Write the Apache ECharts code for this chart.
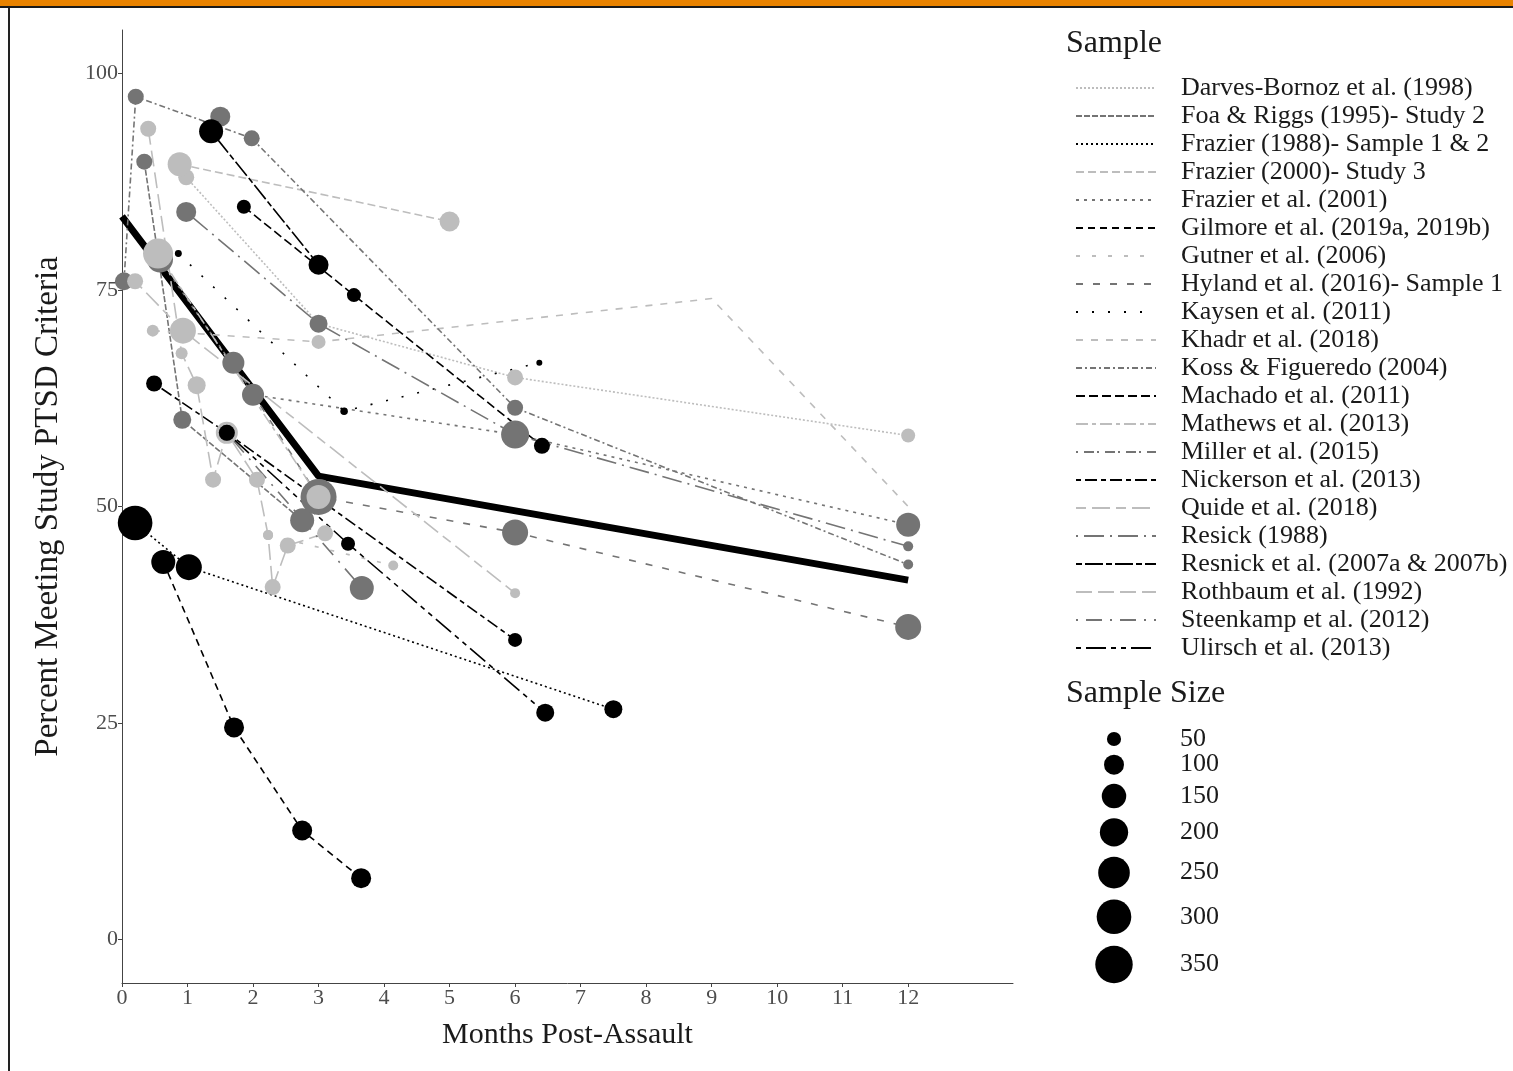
<!DOCTYPE html>
<html>
<head>
<meta charset="utf-8">
<script src="https://cdn.jsdelivr.net/npm/echarts@6/dist/echarts.min.js"></script>
<style>
html,body{margin:0;padding:0;background:#fff;}
#chart{width:1513px;height:1071px;}
</style>
</head>
<body>
<div id="chart"></div>
<script>
// ---------- DATA: [month, percent meeting PTSD criteria, sample size] ----------
const studies = [
  "Darves-Bornoz et al. (1998)", "Foa & Riggs (1995)- Study 2", "Frazier (1988)- Sample 1 & 2",
  "Frazier (2000)- Study 3", "Frazier et al. (2001)", "Gilmore et al. (2019a, 2019b)",
  "Gutner et al. (2006)", "Hyland et al. (2016)- Sample 1", "Kaysen et al. (2011)",
  "Khadr et al. (2018)", "Koss & Figueredo (2004)", "Machado et al. (2011)",
  "Mathews et al. (2013)", "Miller et al. (2015)", "Nickerson et al. (2013)",
  "Quide et al. (2018)", "Resick (1988)", "Resnick et al. (2007a & 2007b)",
  "Rothbaum et al. (1992)", "Steenkamp et al. (2012)", "Ulirsch et al. (2013)"
];
const darvesBornoz1998 = [[0.98,88,64],[3,71.1,49],[6,64.9,64],[12,58.2,49]];
const foaRiggs1995     = [[0.34,89.8,64],[0.92,60,81],[2.75,48.4,144]];
const frazier1988      = [[0.2,48.1,300],[1.02,43,169],[7.5,26.6,81]];
const frazier2000      = [[0.88,89.5,144],[5,82.9,100]];
const frazier2001      = [[0.58,78.5,169],[2,62.9,121],[6,58.3,196],[12,47.9,144]];
const gilmore2019      = [[0.63,43.6,144],[1.71,24.5,100],[2.75,12.6,100],[3.65,7.1,100]];
const gutner2006       = [[2.23,46.7,25],[4.14,43.2,25]];
const hyland2016       = [[1.7,66.6,121],[3,51.1,324],[6,47,169],[12,36.1,169]];
const kaysen2011       = [[0.86,79.2,12],[3.39,61,14],[6.37,66.6,9]];
const khadr2018        = [[0.47,70.3,36],[3,69,49],[9,74,0],[12,50,0]];
const koss2004         = [[0.03,76,81],[0.21,97.3,64],[1.98,92.5,64],[6,61.4,64],[12,43.3,25]];
const machado2011      = [[1.86,84.6,49],[3.54,74.4,49],[6.41,57,64]];
const mathews2013      = [[0.55,79.2,225],[3,51.1,144]];
const miller2015       = [[1.5,95,100]];
const nickerson2013    = [[0.49,64.2,64],[1.6,58.5,64],[6,34.6,49]];
const quide2018        = [[0.2,76,64],[0.93,70.3,169],[6,40,25]];
const resick1988       = [[0.98,84,100],[3,71.1,81],[6,58.3,100],[12,45.4,25]];
const resnick2007      = [[1.36,93.3,144],[3,77.9,100]];
const rothbaum1992     = [[0.4,93.6,64],[0.91,67.7,36],[1.14,64,81],[1.39,53.1,64],[1.6,58.5,121],[2.06,53.1,64],[2.23,46.7,25],[2.3,40.7,64],[2.53,45.5,64],[3.1,46.9,64]];
const steenkamp2012    = [[1.6,58.5,64],[3.66,40.6,144]];
const ulirsch2013      = [[1.6,58.5,64],[3.45,45.7,49],[6.46,26.2,81]];

const overallMonths  = [0, 3, 12];
const overallPercent = [83.5, 53.5, 41.5];

const xTicks = [0,1,2,3,4,5,6,7,8,9,10,11,12];
const yTicks = [0,25,50,75,100];
const sizeLegendValues = [50,100,150,200,250,300,350];

// ---------- STYLES ----------
const studyData = [darvesBornoz1998, foaRiggs1995, frazier1988, frazier2000, frazier2001, gilmore2019,
  gutner2006, hyland2016, kaysen2011, khadr2018, koss2004, machado2011, mathews2013, miller2015,
  nickerson2013, quide2018, resick1988, resnick2007, rothbaum1992, steenkamp2012, ulirsch2013];
const shades = ['#bdbdbd', '#747474', '#000000'];
const dashes = [
  [2,2],[6,2],[2,3],[8,4],[3,5],[7,5],[4,12],[7,10],[2,14],[7,8],
  [6,3,2,3],[9,4],[12,4,4,4],[2,6,10,3],[5,4,12,4],[10,6,18,6],[2,6,20,6],[6,3,18,3],[16,6],[2,8,16,8],[5,5,20,5,5,5]
];
const FONT = '"Liberation Serif", "Times New Roman", serif';
const sz = n => 2 * Math.sqrt(n);

const series = [{
  type: 'line', name: 'Overall', silent: true, symbol: 'none', z: 2,
  data: overallMonths.map((m, i) => [m, overallPercent[i]]),
  lineStyle: { color: '#000', width: 7 }
}];
studies.forEach((name, i) => {
  const col = shades[i % 3];
  series.push({
    type: 'line', name, silent: true, symbol: 'none', z: 3,
    data: studyData[i].map(p => ({
      value: [p[0], p[1]],
      symbol: p[2] > 0 ? 'circle' : 'none',
      symbolSize: p[2] > 0 ? sz(p[2]) : 0
    })),
    lineStyle: { color: col, width: 1.6, type: dashes[i] },
    itemStyle: { color: col }
  });
});

// size legend built from values
const sizeGraphics = [];
let y = 739;
sizeLegendValues.forEach((v, i) => {
  const r = Math.sqrt(v);
  if (i > 0) y += Math.sqrt(sizeLegendValues[i-1]) + r + 8 + i * 0.6;
  sizeGraphics.push({ type: 'circle', shape: { cx: 1114, cy: y, r: r }, style: { fill: '#000' } });
  sizeGraphics.push({ type: 'text', x: 1180, y: y, style: { text: String(v), font: '26px ' + FONT, fill: '#1a1a1a', verticalAlign: 'middle' } });
});

const chart = echarts.init(document.getElementById('chart'), null, { renderer: 'canvas' });
chart.setOption({
  animation: false,
  backgroundColor: '#ffffff',
  title: [
    { text: 'Sample', left: 1066, top: 28, padding: 0, textStyle: { fontFamily: FONT, fontSize: 32, fontWeight: 'normal', color: '#1a1a1a' } },
    { text: 'Sample Size', left: 1066, top: 678, padding: 0, textStyle: { fontFamily: FONT, fontSize: 32, fontWeight: 'normal', color: '#1a1a1a' } }
  ],
  legend: {
    data: studies, orient: 'vertical', left: 1075, top: 74, padding: 0,
    itemWidth: 80, itemHeight: 12, itemGap: 0, selectedMode: false,
    itemStyle: { opacity: 0 },
    textStyle: { fontFamily: FONT, fontSize: 26, color: '#1a1a1a', lineHeight: 28, padding: [0,0,0,20] }
  },
  grid: { left: 122, right: 500, top: 30, bottom: 88, containLabel: false },
  xAxis: {
    type: 'value', min: 0, max: 13.6,
    splitLine: { show: false },
    axisLine: { onZero: false, lineStyle: { color: '#444', width: 1 } },
    axisTick: { show: true, length: 4, customValues: xTicks, lineStyle: { color: '#444' } },
    axisLabel: { customValues: xTicks, fontFamily: FONT, fontSize: 22, color: '#4d4d4d', margin: 4 },
    name: 'Months Post-Assault', nameLocation: 'middle', nameGap: 37,
    nameTextStyle: { fontFamily: FONT, fontSize: 30, color: '#1a1a1a' }
  },
  yAxis: {
    type: 'value', min: -5, max: 105,
    splitLine: { show: false },
    axisLine: { show: true, onZero: false, lineStyle: { color: '#444', width: 1 } },
    axisTick: { show: true, length: 4, customValues: yTicks, lineStyle: { color: '#444' } },
    axisLabel: { customValues: yTicks, fontFamily: FONT, fontSize: 22, color: '#4d4d4d', margin: 4 },
    name: 'Percent Meeting Study PTSD Criteria', nameLocation: 'middle', nameGap: 57,
    nameTextStyle: { fontFamily: FONT, fontSize: 33, color: '#1a1a1a' }
  },
  graphic: [
    { type: 'rect', shape: { x: 0, y: 0, width: 1513, height: 6 }, style: { fill: '#e98300' } },
    { type: 'rect', shape: { x: 0, y: 6, width: 1513, height: 2 }, style: { fill: '#1a1a1a' } },
    { type: 'rect', shape: { x: 8, y: 8, width: 2, height: 1063 }, style: { fill: '#222' } }
  ].concat(sizeGraphics),
  series: series
});
</script>
</body>
</html>
